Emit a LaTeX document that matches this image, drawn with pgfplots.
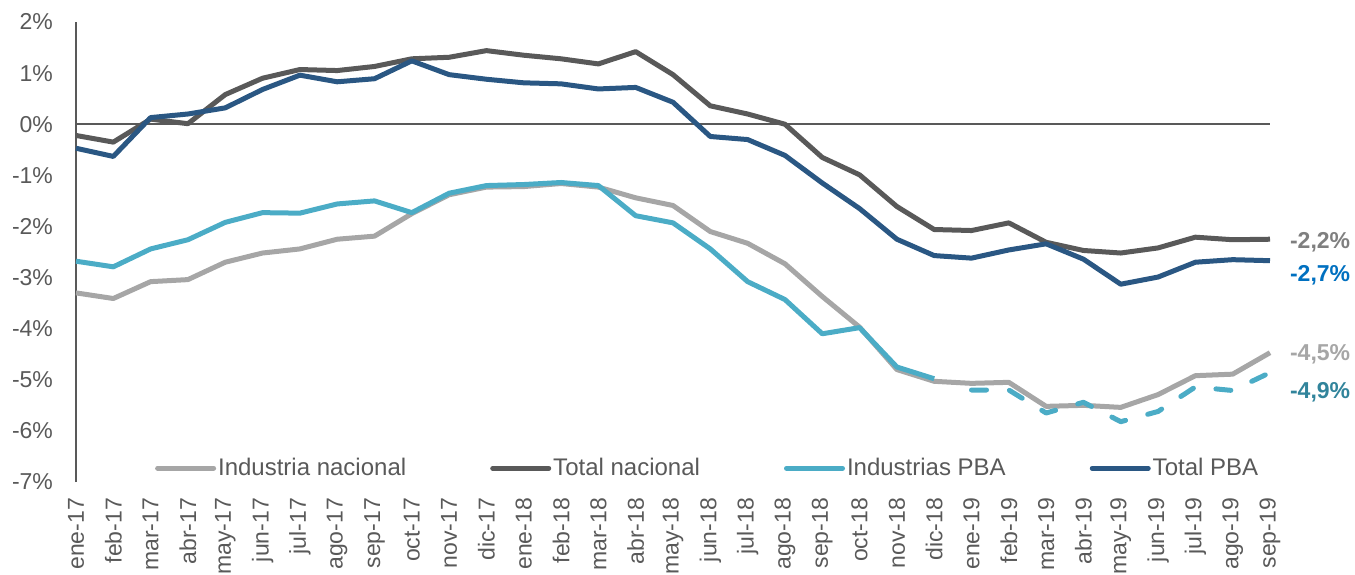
\documentclass[border=0pt]{standalone}
\usepackage{pgfplots}
\pgfplotsset{compat=1.18}
\usepackage{fontspec}
\setmainfont{Liberation Sans}
\definecolor{txt}{HTML}{595959}
\definecolor{cTN}{HTML}{595959}
\definecolor{cIN}{HTML}{A6A6A6}
\definecolor{cIP}{HTML}{4BACC6}
\definecolor{cTP}{HTML}{2A5783}
\definecolor{lTN}{HTML}{7F7F7F}
\definecolor{lTP}{HTML}{0070C0}
\definecolor{lIP}{HTML}{31849B}
\begin{document}
\begin{tikzpicture}
\path[use as bounding box] (-38pt,-46pt) rectangle (639.5pt,241pt);
\begin{axis}[
  scale only axis, width=597pt, height=230pt,
  xmin=0, xmax=32, ymin=-7, ymax=2,
  ytick={-7,-6,...,2}, xtick={0,1,...,32},
  xticklabels={ene-17,feb-17,mar-17,abr-17,may-17,jun-17,jul-17,ago-17,sep-17,oct-17,nov-17,dic-17,ene-18,feb-18,mar-18,abr-18,may-18,jun-18,jul-18,ago-18,sep-18,oct-18,nov-18,dic-18,ene-19,feb-19,mar-19,abr-19,may-19,jun-19,jul-19,ago-19,sep-19},
  clip=false,
  axis lines*=left,
  x axis line style={draw=none},
  y axis line style={color=txt, line width=0.75pt},
  major tick length=0pt,
  tick label style={font=\fontsize{11.5}{13}\selectfont, text=txt},
  /pgf/number format/assume math mode=true,
  yticklabel={\pgfmathprintnumber{\tick}\%},
  yticklabel shift=8pt,
  xticklabel style={rotate=90, anchor=east},
  xticklabel shift=4.5pt,
  legend style={at={(0.529,0.030)}, anchor=center, draw=none, fill=none,
    font=\fontsize{12}{14}\selectfont, text=txt,
    nodes={inner xsep=1pt},
    /tikz/every even column/.append style={column sep=41pt}},
  legend columns=4,
  legend image code/.code={\draw[#1, line cap=round] (0pt,0pt) -- (28pt,0pt);},
  every axis plot/.append style={line width=2.5pt, line join=round},
]
\draw[txt, line width=0.75pt] (axis cs:0,0) -- (axis cs:32,0);
\addplot[cIN] coordinates {
(0,-3.30) (1,-3.41) (2,-3.08) (3,-3.04) (4,-2.70) (5,-2.52) (6,-2.44) (7,-2.25) (8,-2.19) (9,-1.75) (10,-1.38) (11,-1.23) (12,-1.22) (13,-1.16) (14,-1.23) (15,-1.44) (16,-1.59) (17,-2.10) (18,-2.33) (19,-2.73) (20,-3.37) (21,-3.97) (22,-4.80) (23,-5.03) (24,-5.07) (25,-5.05) (26,-5.52) (27,-5.50) (28,-5.54) (29,-5.29) (30,-4.92) (31,-4.89) (32,-4.47)};
\addlegendentry{Industria nacional}
\addplot[cTN] coordinates {
(0,-0.22) (1,-0.35) (2,0.10) (3,0.01) (4,0.58) (5,0.90) (6,1.07) (7,1.05) (8,1.13) (9,1.28) (10,1.31) (11,1.44) (12,1.35) (13,1.28) (14,1.18) (15,1.42) (16,0.97) (17,0.36) (18,0.20) (19,0.00) (20,-0.65) (21,-0.99) (22,-1.61) (23,-2.06) (24,-2.08) (25,-1.93) (26,-2.31) (27,-2.47) (28,-2.52) (29,-2.42) (30,-2.21) (31,-2.26) (32,-2.25)};
\addlegendentry{Total nacional}
\addplot[cIP] coordinates {
(0,-2.68) (1,-2.79) (2,-2.44) (3,-2.26) (4,-1.92) (5,-1.73) (6,-1.74) (7,-1.56) (8,-1.50) (9,-1.73) (10,-1.35) (11,-1.20) (12,-1.18) (13,-1.14) (14,-1.20) (15,-1.79) (16,-1.93) (17,-2.44) (18,-3.08) (19,-3.43) (20,-4.10) (21,-3.98) (22,-4.75) (23,-4.98)};
\addlegendentry{Industrias PBA}
\addplot[cTP] coordinates {
(0,-0.47) (1,-0.63) (2,0.13) (3,0.20) (4,0.32) (5,0.68) (6,0.96) (7,0.83) (8,0.89) (9,1.24) (10,0.97) (11,0.88) (12,0.81) (13,0.79) (14,0.69) (15,0.72) (16,0.43) (17,-0.24) (18,-0.30) (19,-0.61) (20,-1.15) (21,-1.65) (22,-2.25) (23,-2.57) (24,-2.62) (25,-2.46) (26,-2.34) (27,-2.64) (28,-3.13) (29,-2.99) (30,-2.70) (31,-2.65) (32,-2.67)};
\addlegendentry{Total PBA}
\addplot[cIP, line cap=round, dash pattern=on 7.5pt off 11.5pt, forget plot] coordinates {
(24,-5.20) (25,-5.20) (26,-5.65) (27,-5.44) (28,-5.82) (29,-5.62) (30,-5.14) (31,-5.21) (32,-4.86)};
\node[anchor=west, xshift=6.5pt, text=lTN, font=\fontsize{11.5}{13}\selectfont\bfseries] at (axis cs:32,-2.31) {-2,2\%};
\node[anchor=west, xshift=6.5pt, text=lTP, font=\fontsize{11.5}{13}\selectfont\bfseries] at (axis cs:32,-2.95) {-2,7\%};
\node[anchor=west, xshift=6.5pt, text=cIN, font=\fontsize{11.5}{13}\selectfont\bfseries] at (axis cs:32,-4.51) {-4,5\%};
\node[anchor=west, xshift=6.5pt, text=lIP, font=\fontsize{11.5}{13}\selectfont\bfseries] at (axis cs:32,-5.25) {-4,9\%};
\end{axis}
\end{tikzpicture}
\end{document}
